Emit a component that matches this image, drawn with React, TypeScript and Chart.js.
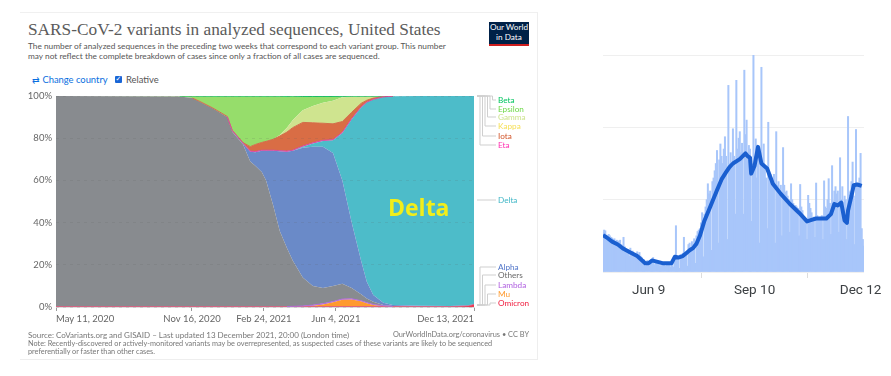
import React, { useEffect, useRef } from "react";
import Chart from "chart.js/auto";

// ---------- left chart: share of sequences (percent), by day since May 11, 2020 ----------
const sampleDays = [0,172,190,200,218,238,245,260,270,277,286,292,302,311,321,329,343,357,371,385,398,411,424,432,441,455,468,506,548,573,581];
const omicron = [.2,.2,.2,.2,.2,.2,.2,.2,.2,.2,.2,.2,.2,.2,.2,.2,.2,.2,.2,.2,.2,.2,.2,.2,.2,.2,.2,.2,.2,.5,1.2];
const mu = [0,0,0,0,0,0,0,0,0,0,0,0,0,0,0,0,.1,.4,1,2,3.2,3.3,2.5,1.6,.8,.3,.1,0,0,0,0];
const lambda = [0,0,0,0,0,0,0,0,0,0,0,0,0,0,0,.1,.2,.3,.4,.4,.4,.4,.3,.3,.2,.1,0,0,0,0,0];
const others = [99.8,99.6,98.8,97.1,94,89.8,82.8,76.8,68.8,66.8,63.8,59.8,47.8,35.8,27.8,21.7,13.5,9.1,7.4,7.4,7.2,5.1,3,1.9,1.3,.4,.2,.2,.1,.1,.1];
const alpha = [0,0,0,0,0,.2,.5,.5,4.6,6.4,10,14,26,37.8,45.6,52,61.5,66,67,63,49,31,16,8,3.2,1,.5,.2,.2,.2,.1];
const delta = [0,0,0,0,0,0,0,0,0,0,0,0,0,0,0,0,.5,1.5,2.7,6,22.5,49,72.6,85,92.6,97.5,98.9,99.4,99.5,99.2,98.6];
const eta = [0,0,0,0,0,0,.1,.1,.3,.3,.3,.3,.3,.3,.3,.3,.3,.3,.3,.3,.3,.3,.2,.1,.1,.1,0,0,0,0,0];
const iota = [0,0,0,.1,.1,.1,.1,.3,2.1,3.3,3.7,4.2,5.2,6.9,9,10.7,11.2,9.5,8.1,7.5,5.1,3,1.7,.9,.6,.1,0,0,0,0,0];
const kappa = [0,0,0,0,0,0,0,0,0,0,0,0,0,.1,.1,.1,.1,.1,.1,.1,.1,.1,.1,.1,.1,0,0,0,0,0,0];
const gamma = [0,0,0,0,0,0,0,0,0,0,0,0,0,.4,1.9,3.4,5.6,7.9,9.6,10.9,11.4,7.2,3.1,1.6,.7,.1,0,0,0,0,0];
const epsilon = [0,.2,.9,2.4,5.5,9.5,16.1,21.9,23.8,22.8,21.8,21.3,20.3,18.3,14.8,11.3,6.4,4.3,2.8,1.8,.3,.2,.1,.1,0,0,0,0,0,0,0];
const beta = [0,0,.1,.2,.2,.2,.2,.2,.2,.2,.2,.2,.2,.2,.2,.2,.2,.2,.2,.2,.2,.2,.2,.2,.2,.1,0,0,0,0,0];
const yTicks = [0, 20, 40, 60, 80, 100];
const dateTickDays = [0, 189, 289, 389, 581];
const dateTickLabels = ["May 11, 2020", "Nov 16, 2020", "Feb 24, 2021", "Jun 4, 2021", "Dec 13, 2021"];

// ---------- right chart: daily values and their moving average, by day since Apr 30 ----------
const dailyValues = [
  55,58,57,50,46,52,50, 48,47,45,46,40,44,43, 42,44,38,36,48,35,30, 30,31,22,33,28,29,22,
  26,24,28,18,27,22,20, 12,17,8,14,16,12,9, 16,18,20,10,15,14,12, 13,8,14,11,12,10,8,
  10,12,10,7,12,14,7, 18,64,20,22,5,24,22, 26,48,22,24,8,38,40, 34,42,38,46,12,50,56,
  58,60,68,82,21,80,90, 100,122,108,112,30,125,130, 140,150,168,40,155,177,160,
  150,170,187,160,45,258,150, 165,150,198,160,80,265,170, 185,194,165,178,80,279,190,
  210,165,175,170,70,150,300, 160,184,130,170,40,160,283, 150,177,145,130,60,207,125,
  135,125,130,135,40,194,120, 125,115,120,50,172,120,110, 112,105,100,55,122,100,95,
  90,92,90,88,50,121,90, 85,75,72,70,45,106,95, 88,82,72,76,48,123,78,
  75,72,76,78,45,126,90, 88,100,129,95,52,147,98, 112,118,108,112,55,158,100,
  118,96,105,100,45,215,110, 112,125,152,105,38,197,120, 118,130,164,60,45,36,
];
const averageDays = [0,3,8,13,18,24,30,37,40,43,48,53,60,63,66,70,73,76,79,82,85,89,94,100,104,108,111,114,120,125,127,129,130,133,136,139,144,149,156,164,172,179,183,187,192,196,200,203,206,209,212,214,215,218,220,223,227];
const averageValues = [51,48,42,38,32,27,22,12,12,16,14,12,12,21,20,22,26,30,33,39,50,71,90,113,128,138,145,150,156,164,160,158,136,147,173,150,143,122,108,94,82,70,72,74,74,74,80,94,92,96,71,68,85,105,120,121,119];
const gridValues = [0, 100, 200, 300];
const monthTickDays = [40, 133, 226];
const monthTickLabels = ["Jun 9", "Sep 10", "Dec 12"];

// ---------- legend ----------
const legendNames = ["Beta","Epsilon","Gamma","Kappa","Iota","Eta","Delta","Alpha","Others","Lambda","Mu","Omicron"];
const legendColors = ["#00c45f","#6ed848","#cde38e","#f6e05a","#d2552a","#ff30b0","#3fb6c6","#4f74c8","#6a6a6a","#b060e0","#ff9a2e","#f01a3c"];
const legendY = [100,109,117,126,136,145,200,267,275,285,294,303];
const legendElbow = [492.5,490,487.5,485,482.5,480,478,480,482.5,485,487.5,490];
const legendAnchor = [96,96,96,96,96,96,200,305,305,305,305,305];

const connectors = {
  id: "connectors",
  afterDraw(chart: any) {
    const { ctx, canvas } = chart;
    const top = canvas.getBoundingClientRect().top - canvas.parentElement.getBoundingClientRect().top;
    ctx.save();
    ctx.strokeStyle = "#cfcfcf";
    ctx.lineWidth = 1;
    legendNames.forEach((_, i) => {
      ctx.beginPath();
      ctx.moveTo(477, legendAnchor[i] - top);
      ctx.lineTo(legendElbow[i], legendAnchor[i] - top);
      ctx.lineTo(legendElbow[i], legendY[i] - top);
      ctx.lineTo(496, legendY[i] - top);
      ctx.stroke();
    });
    ctx.restore();
  },
};

export default function App() {
  const leftRef = useRef<HTMLCanvasElement>(null);
  const rightRef = useRef<HTMLCanvasElement>(null);

  useEffect(() => {
    const pts = (v: number[]) => v.map((y, i) => ({ x: sampleDays[i], y }));
    const layer = (label: string, color: string, values: number[], first: boolean, extra: any = { borderWidth: 0 }) => ({
      label, data: pts(values), backgroundColor: color, fill: first ? "origin" : "-1",
      pointRadius: 0, tension: 0, stack: "s", ...extra,
    });
    // Stroke along the top of a thin band, only where that band exists.
    const stackBelow = [omicron, mu, lambda, others, alpha, delta, eta, iota, kappa, gamma, epsilon, beta];
    const edge = (label: string, color: string, upto: number) => {
      const values = stackBelow[upto];
      const data: { x: number; y: number }[] = [];
      values.forEach((v, i) => {
        const present = v > 0 || values[i - 1] > 0 || values[i + 1] > 0;
        if (present) {
          let sum = 0;
          for (let k = 0; k <= upto; k++) sum += stackBelow[k][i];
          data.push({ x: sampleDays[i], y: Math.min(sum, 100) });
        }
      });
      return {
        label, data, fill: false, borderColor: color, borderWidth: 1, pointRadius: 0, tension: 0,
        stack: label, order: -1,
      };
    };
    const left = new Chart(leftRef.current!, {
      type: "line",
      data: {
        datasets: [
          layer("Omicron", "#ef3a50", omicron, true, { borderColor: "rgba(205,80,125,0.75)", borderWidth: 0.8 }),
          layer("Mu", "#ff9a2e", mu, false),
          layer("Lambda", "#b060e0", lambda, false),
          layer("Others", "#888b8f", others, false),
          layer("Alpha", "#6a8ac8", alpha, false),
          layer("Delta", "#4dbcc9", delta, false),
          layer("Eta", "#ff30b0", eta, false),
          layer("Iota", "#d96d45", iota, false),
          layer("Kappa", "#f6e05a", kappa, false),
          layer("Gamma", "#cfe48f", gamma, false),
          layer("Epsilon", "#96dd6b", epsilon, false),
          layer("Beta", "#00c45f", beta, false),
          edge("Lambda edge", "#b070d8", 2),
          edge("Eta edge", "#d050a0", 6),
          edge("Iota edge", "#d0704a", 7),
          edge("Beta edge", "#10c060", 11),
        ] as any,
      },
      options: {
        animation: false, responsive: false,
        layout: { padding: { top: 10, right: 66, left: 0, bottom: 0 } },
        plugins: { legend: { display: false }, title: { display: false }, tooltip: { enabled: false } },
        scales: {
          x: {
            type: "linear", min: 0, max: 581,
            afterBuildTicks: (s: any) => { s.ticks = dateTickDays.map((value) => ({ value })); },
            afterFit: (s: any) => { s.height = 27; },
            ticks: {
              autoSkip: false, maxRotation: 0, align: "inner", color: "#666", padding: 2,
              font: { family: "Lato", size: 9.5 },
              callback: (v: any) => dateTickLabels[dateTickDays.indexOf(Number(v))],
            },
            grid: { drawOnChartArea: false, tickLength: 4, color: "#999" },
            border: { color: "#ddd" },
          },
          y: {
            stacked: true, min: 0, max: 100,
            afterBuildTicks: (s: any) => { s.ticks = yTicks.map((value) => ({ value })); },
            afterFit: (s: any) => { s.width = 56; },
            ticks: {
              color: "#666", padding: 4, font: { family: "Lato", size: 9.5 },
              callback: (v: any) => `${v}%`,
            },
            grid: { z: 1, color: "rgba(90,90,90,0.14)", drawTicks: false },
            border: { display: false, dash: [3, 4] },
          },
        },
      } as any,
      plugins: [connectors],
    });

    const right = new Chart(rightRef.current!, {
      type: "bar",
      data: {
        datasets: [
          {
            type: "line", label: "Average",
            data: averageValues.map((y, i) => ({ x: averageDays[i], y })),
            borderColor: "#1a5fd0", borderWidth: 4, pointRadius: 0, tension: 0, order: 0,
            borderJoinStyle: "round",
          },
          {
            type: "bar", label: "Daily",
            data: dailyValues.map((y, x) => ({ x, y })),
            backgroundColor: "#a8c6fa", barThickness: 1.35, order: 1,
          },
        ] as any,
      },
      options: {
        animation: false, responsive: false,
        layout: { padding: { top: 15, right: 27, left: 13, bottom: 0 } },
        plugins: { legend: { display: false }, tooltip: { enabled: false } },
        scales: {
          x: {
            type: "linear", min: 0, max: 229, offset: false,
            afterBuildTicks: (s: any) => { s.ticks = monthTickDays.map((value) => ({ value })); },
            afterFit: (s: any) => { s.height = 28; },
            ticks: {
              autoSkip: false, maxRotation: 0, color: "#3c4043", padding: 5,
              font: { family: "Roboto", size: 13.5 },
              callback: (v: any) => monthTickLabels[monthTickDays.indexOf(Number(v))],
            },
            grid: { drawOnChartArea: false, tickLength: 6, color: "#ddd" },
            border: { display: false },
          },
          y: {
            display: true, min: 0, max: 300,
            afterBuildTicks: (s: any) => { s.ticks = gridValues.map((value) => ({ value })); },
            afterFit: (s: any) => { s.width = 0; },
            ticks: { display: false },
            grid: { color: "#efefef", drawTicks: false },
            border: { display: false },
          },
        },
      } as any,
    });
    return () => { left.destroy(); right.destroy(); };
  }, []);

  const abs = (left: number, top: number, extra: React.CSSProperties = {}): React.CSSProperties => ({
    position: "absolute", left, top, whiteSpace: "nowrap", lineHeight: 1, fontFamily: "Lato", ...extra,
  });

  return (
    <div style={{ position: "absolute", left: 0, top: 0, width: 891, height: 376, overflow: "hidden", background: "#fff" }}>
      <div style={{ position: "absolute", left: 20, top: 12, width: 517, height: 346, borderTop: "1px solid #f0f0f0", borderRight: "1px solid #eee", borderBottom: "1px solid #eee" }} />
      <div style={abs(28, 21, { fontFamily: "Liberation Serif", fontSize: 17.3, color: "#5b5b5b" })}>SARS-CoV-2 variants in analyzed sequences, United States</div>
      <div style={abs(28, 41.5, { fontSize: 8.3, color: "#555" })}>The number of analyzed sequences in the preceding two weeks that correspond to each variant group. This number</div>
      <div style={abs(28, 51.5, { fontSize: 8.3, color: "#555" })}>may not reflect the complete breakdown of cases since only a fraction of all cases are sequenced.</div>
      <div style={abs(32, 75, { fontSize: 9.4, color: "#0a6fe0" })}>⇄ Change country</div>
      <div style={{ position: "absolute", left: 115, top: 76, width: 7, height: 7, background: "#1a66d6", borderRadius: 1, color: "#fff", fontSize: 7, lineHeight: "7px", textAlign: "center", fontFamily: "DejaVu Sans" }}>✓</div>
      <div style={abs(126, 75, { fontSize: 9.4, color: "#555" })}>Relative</div>
      <div style={{ position: "absolute", left: 489, top: 22, width: 40, height: 24, background: "#002147", borderBottom: "2px solid #ce1e1e", boxSizing: "border-box" }}>
        <div style={{ color: "#fff", fontFamily: "Lato", fontSize: 8.2, lineHeight: "9.5px", textAlign: "center", marginTop: 1, whiteSpace: "nowrap" }}>Our World<br />in Data</div>
      </div>

      <canvas ref={leftRef} width={540} height={248} style={{ position: "absolute", left: 0, top: 86, width: 540, height: 248 }} />
      <canvas ref={rightRef} width={301} height={260} style={{ position: "absolute", left: 590, top: 40, width: 301, height: 260 }} />

      {legendNames.map((n, i) => (
        <div key={n} style={abs(498, legendY[i] - 5, { fontSize: 8.2, lineHeight: "10px", color: legendColors[i] })}>{n}</div>
      ))}
      <div style={abs(388, 196, { fontFamily: "Open Sans", fontWeight: 700, fontSize: 23, color: "#f2ee1a" })}>Delta</div>

      <div style={abs(28, 331, { fontSize: 8, color: "#777" })}>Source: CoVariants.org and GISAID – Last updated 13 December 2021, 20:00 (London time)</div>
      <div style={abs(529, 331, { fontSize: 7.4, color: "#777", transform: "translateX(-100%)" })}>OurWorldInData.org/coronavirus • CC BY</div>
      <div style={abs(28, 339.5, { fontSize: 7.3, color: "#777" })}>Note: Recently-discovered or actively-monitored variants may be overrepresented, as suspected cases of these variants are likely to be sequenced</div>
      <div style={abs(28, 348, { fontSize: 7.3, color: "#777" })}>preferentially or faster than other cases.</div>
    </div>
  );
}
